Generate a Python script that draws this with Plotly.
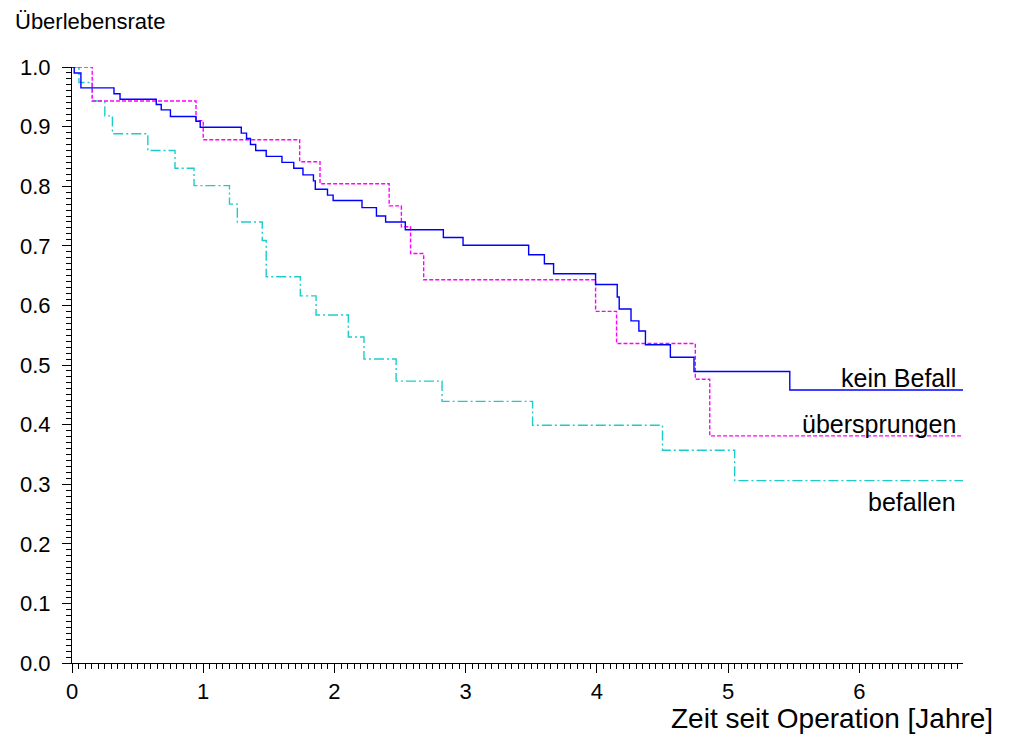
import plotly.graph_objects as go

# Kaplan-Meier step data (time in years, survival rate)
kein_t = [0, 0.017, 0.068, 0.32, 0.366, 0.642, 0.68, 0.75, 0.945, 0.977, 1.29, 1.33, 1.36, 1.40,
          1.48, 1.60, 1.69, 1.76, 1.84, 1.854, 1.947, 1.99, 2.21, 2.32, 2.39, 2.54, 2.83, 2.98,
          3.48, 3.60, 3.67, 3.99, 4.155, 4.17, 4.26, 4.32, 4.37, 4.56, 4.74, 5.47, 6.79]
kein_s = [1.0, 0.990, 0.965, 0.955, 0.946, 0.937, 0.928, 0.917, 0.909, 0.899, 0.889, 0.880, 0.870,
          0.860, 0.850, 0.840, 0.830, 0.819, 0.809, 0.795, 0.785, 0.776, 0.764, 0.750, 0.740, 0.727,
          0.714, 0.701, 0.685, 0.670, 0.653, 0.635, 0.614, 0.594, 0.574, 0.557, 0.534, 0.513, 0.489,
          0.458, 0.458]

ueber_t = [0, 0.154, 0.945, 1.0, 1.735, 1.89, 2.417, 2.51, 2.58, 2.68, 3.99, 4.15, 4.75, 4.86, 6.79]
ueber_s = [1.0, 0.943, 0.910, 0.878, 0.841, 0.804, 0.767, 0.732, 0.687, 0.643, 0.590, 0.536,
           0.476, 0.381, 0.381]

befallen_t = [0, 0.053, 0.154, 0.25, 0.308, 0.578, 0.785, 0.93, 1.20, 1.26, 1.45, 1.48, 1.74,
              1.86, 2.106, 2.225, 2.47, 2.82, 3.51, 4.50, 5.05, 6.79]
befallen_s = [1.0, 0.974, 0.943, 0.918, 0.888, 0.860, 0.830, 0.801, 0.770, 0.740, 0.709, 0.648,
              0.616, 0.584, 0.547, 0.510, 0.473, 0.439, 0.399, 0.357, 0.306, 0.306]

labels = ["kein Befall", "übersprungen", "befallen"]
label_y = [0.478, 0.401, 0.270]

y_ticks = [round(i * 0.1, 1) for i in range(11)]
x_ticks = [0, 1, 2, 3, 4, 5, 6]

FONT = "Liberation Sans, Arial, sans-serif"

fig = go.Figure()
fig.add_trace(go.Scatter(x=befallen_t, y=befallen_s, mode="lines", line_shape="hv",
                         line=dict(color="#1ECBCB", width=1.4, dash="10px,3px,2px,3px"),
                         name=labels[2], showlegend=False))
fig.add_trace(go.Scatter(x=ueber_t, y=ueber_s, mode="lines", line_shape="hv",
                         line=dict(color="#FF00FF", width=1.4, dash="4px,2px"),
                         name=labels[1], showlegend=False))
fig.add_trace(go.Scatter(x=kein_t, y=kein_s, mode="lines", line_shape="hv",
                         line=dict(color="#0000FF", width=1.4),
                         name=labels[0], showlegend=False))

for txt, yy in zip(labels, label_y):
    fig.add_annotation(x=6.75, y=yy, xref="x", yref="y", text=txt, showarrow=False,
                       xanchor="right", yanchor="middle",
                       font=dict(family=FONT, size=25, color="black"))

fig.add_annotation(text="Überlebensrate", showarrow=False,
                   xref="x domain", yref="y domain", x=-59 / 896, y=1 + 45 / 596,
                   xanchor="left", yanchor="middle",
                   font=dict(family=FONT, size=22, color="black"))

fig.add_annotation(text="Zeit seit Operation [Jahre]", showarrow=False,
                   xref="x domain", yref="y domain", x=(987 - 59) / 896, y=-55 / 596,
                   xanchor="right", yanchor="middle",
                   font=dict(family=FONT, size=28, color="black"))

fig.update_layout(
    width=1002, height=730,
    margin=dict(l=59, r=47, t=59, b=75),
    paper_bgcolor="white", plot_bgcolor="white",
    font=dict(family=FONT, color="black", size=22),
    xaxis=dict(range=[0, 6.79], tickvals=x_ticks, ticktext=[str(v) for v in x_ticks],
               showgrid=False, zeroline=False, showline=True, linecolor="black", linewidth=1,
               ticks="outside", ticklen=9, tickwidth=1, tickcolor="black",
               minor=dict(dtick=0.05, ticks="outside", ticklen=5, tickcolor="black", showgrid=False),
               tickfont=dict(family=FONT, size=22)),
    yaxis=dict(range=[0, 1.0], tickvals=y_ticks, ticktext=[f"{v:.1f}" for v in y_ticks],
               showgrid=False, zeroline=False, showline=True, linecolor="black", linewidth=1,
               ticks="outside", ticklen=9, tickwidth=1, tickcolor="black", ticklabelstandoff=7,
               minor=dict(dtick=0.01, ticks="outside", ticklen=5, tickcolor="black", showgrid=False),
               tickfont=dict(family=FONT, size=22)),
)

fig.write_html("out.html")
